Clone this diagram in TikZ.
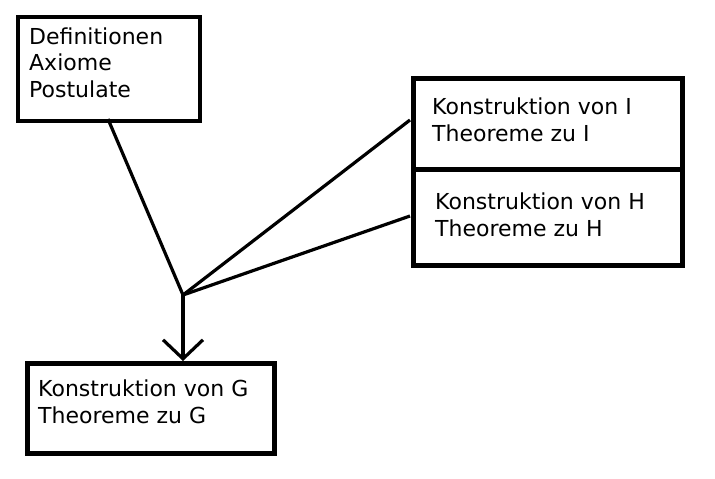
\documentclass[tikz,border=0pt]{standalone}
\usepackage{fontspec}
\setmainfont{DejaVu Sans}
\usetikzlibrary{arrows.meta}
\begin{document}
\begin{tikzpicture}[x=1pt,y=-1pt,
  box/.style={draw,line width=4.5pt,rectangle,inner sep=0pt,anchor=north west},
  txt/.style={inner sep=0pt,anchor=base west,align=left,font=\fontsize{22}{26.5}\selectfont},
  conn/.style={line width=3.2pt}]
\useasboundingbox (0,0) rectangle (715,479);
\node[box,minimum width=182pt,minimum height=104pt] (D) at (15.5,14.5) {};
\node[box,minimum width=269pt,minimum height=91pt] (I) at (411,76) {};
\node[box,minimum width=269pt,minimum height=96pt] (H) at (411,167) {};
\node[box,minimum width=247pt,minimum height=90pt] (G) at (25,361) {};
\node[txt] (Dt) at (29,97) {Definitionen\\Axiome\\Postulate};
\node[txt] (It) at (432,141) {Konstruktion von I\\Theoreme zu I};
\node[txt] (Ht) at (435,236) {Konstruktion von H\\Theoreme zu H};
\node[txt] (Gt) at (38,423) {Konstruktion von G\\Theoreme zu G};
\coordinate (J) at (183,295);
\coordinate (Dl) at (108,119);
\coordinate (Il) at (410,120);
\coordinate (Hl) at (410,216);
\draw[conn] (Dl) -- (J);
\draw[conn] (Il) -- (J);
\draw[conn] (Hl) -- (J);
\draw[conn,-{Straight Barb[length=19pt,width=40pt,line width=3.2pt]}] (J) -- (J |- G.north);
\end{tikzpicture}
\end{document}
